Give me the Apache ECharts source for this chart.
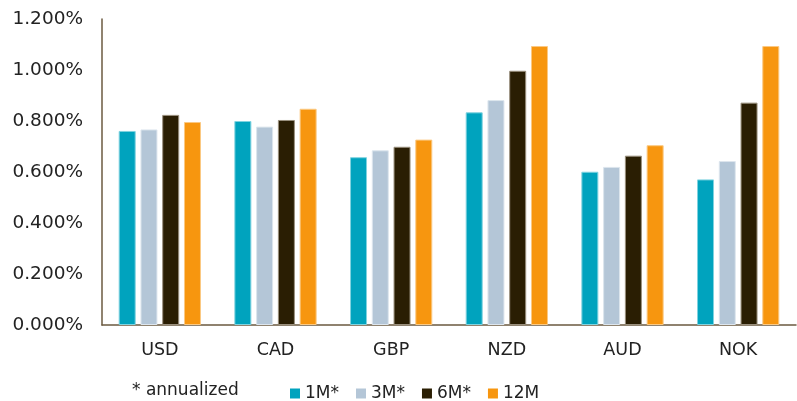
<!DOCTYPE html>
<html>
<head>
<meta charset="utf-8">
<script src="https://cdn.jsdelivr.net/npm/echarts@6/dist/echarts.min.js"></script>
<style>
  html, body { margin: 0; padding: 0; background: #ffffff; }
  #chart { width: 797px; height: 401px; }
</style>
</head>
<body>
<div id="chart"></div>
<script>
// Deposit rates by currency and tenor (percent)
const currencies = ['USD', 'CAD', 'GBP', 'NZD', 'AUD', 'NOK'];
const seriesNames = ['1M*', '3M*', '6M*', '12M'];
const rate1M  = [0.761, 0.800, 0.658, 0.834, 0.601, 0.571];
const rate3M  = [0.767, 0.778, 0.685, 0.882, 0.620, 0.643];
const rate6M  = [0.824, 0.804, 0.699, 0.997, 0.664, 0.872];
const rate12M = [0.796, 0.848, 0.727, 1.094, 0.705, 1.094];
const footnote = '* annualized';

const palette = ['#00a3be', '#b4c6d7', '#2a1e03', '#f7960f'];
const edges   = ['#7fd3e0', '#dde6ee', '#9a907e', '#fbc983'];
const values = [rate1M, rate3M, rate6M, rate12M];
const font = 'DejaVu Sans, Verdana, sans-serif';

const chart = echarts.init(document.getElementById('chart'), null, { renderer: 'canvas' });

chart.setOption({
  animation: false,
  textStyle: { fontFamily: font },
  grid: { left: 102, right: 1, top: 19, bottom: 76, containLabel: false },
  legend: {
    data: seriesNames,
    left: 285,
    top: 380,
    icon: 'rect',
    itemWidth: 10,
    itemHeight: 10,
    itemGap: 17,
    itemStyle: { borderWidth: 0 },
    textStyle: { fontFamily: font, fontSize: 17, color: '#222222', padding: [0, 0, 0, 0] }
  },
  graphic: [{
    type: 'text',
    left: 132,
    top: 382,
    style: { text: footnote, font: '17px ' + font, fill: '#222222' }
  }],
  xAxis: {
    type: 'category',
    data: currencies,
    axisLine: { lineStyle: { color: '#6b5a40', width: 1.5 } },
    axisTick: { show: false },
    axisLabel: { color: '#222222', fontSize: 17.5, margin: 16, fontFamily: font }
  },
  yAxis: {
    type: 'value',
    min: 0,
    max: 1.2,
    interval: 0.2,
    axisLine: { show: true, lineStyle: { color: '#6b5a40', width: 1.5 } },
    axisTick: { show: false },
    splitLine: { show: false },
    axisLabel: {
      color: '#222222',
      fontSize: 18.5,
      margin: 19,
      fontFamily: font,
      formatter: v => v.toFixed(3) + '%'
    }
  },
  series: seriesNames.map((name, i) => ({
    name,
    type: 'bar',
    data: values[i],
    barWidth: 17,
    barGap: '28%',
    itemStyle: { color: palette[i], borderColor: edges[i], borderWidth: 1 }
  }))
});
</script>
</body>
</html>
